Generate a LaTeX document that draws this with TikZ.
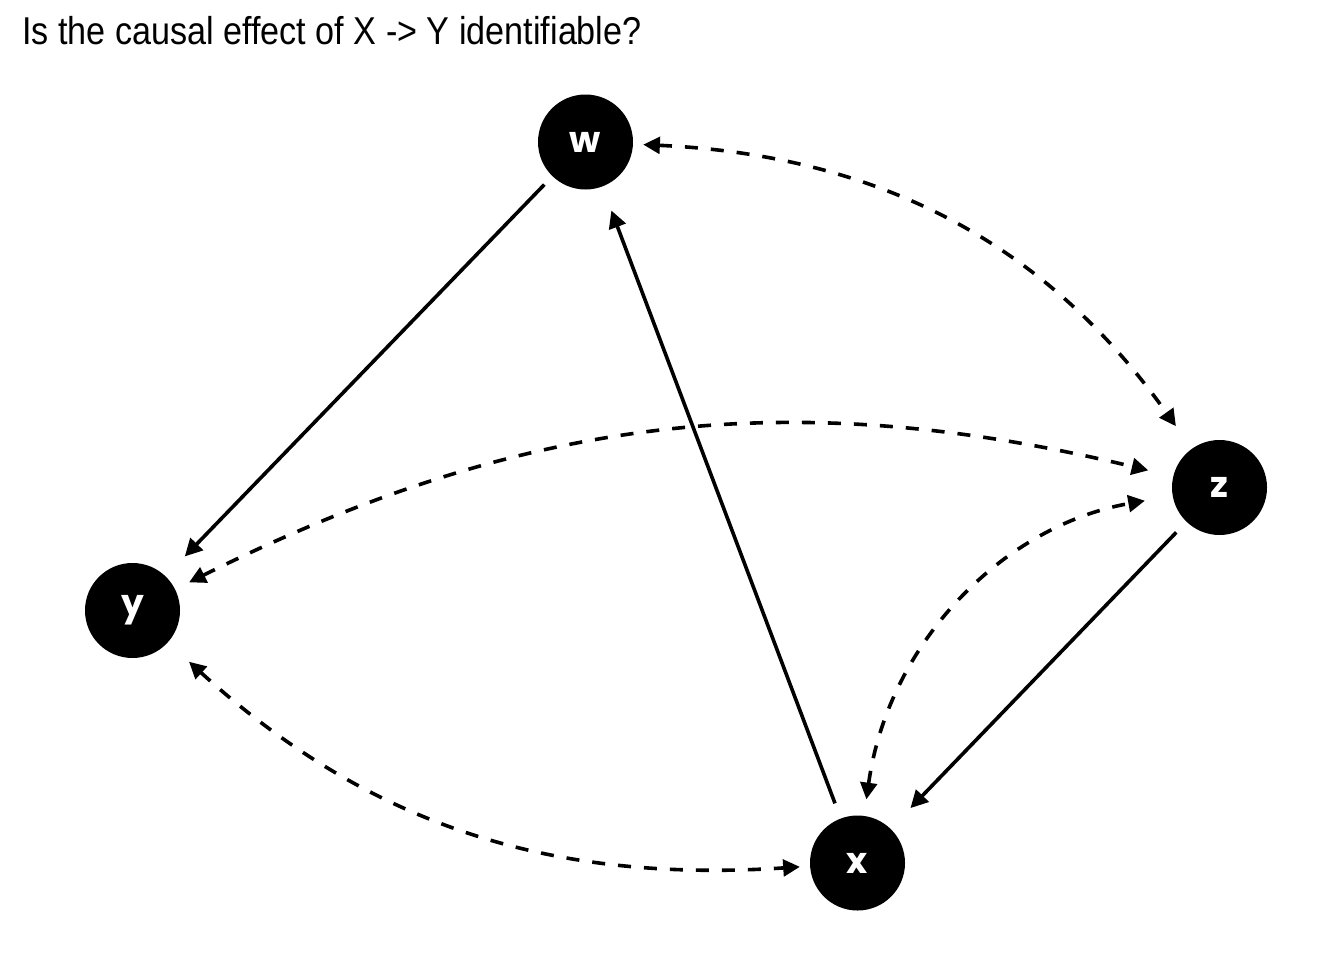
\documentclass[tikz,border=0pt]{standalone}
\usepackage{fontspec}
\setmainfont{Liberation Sans}
\newfontfamily\nodefont{Poppins}
\usetikzlibrary{arrows.meta}
\tikzset{
  dagnode/.style={circle, fill=black, minimum size=71.25pt, inner sep=0pt,
    text=white, font=\nodefont\bfseries\fontsize{27pt}{27pt}\selectfont},
  directed/.style={line width=2.7pt, -{Triangle[length=13pt,width=13pt]}},
  bidirected/.style={line width=2.7pt, {Triangle[length=12.5pt,width=12.5pt]}-{Triangle[length=12.5pt,width=12.5pt]},
    dash pattern=on 9.75pt off 9.75pt},
}
\begin{document}
\begin{tikzpicture}[x=0.75pt, y=-0.75pt]
\useasboundingbox (0,0) rectangle (1344,960);
\node[anchor=base west, inner sep=0pt] (title) at (22,44)
  {\scalebox{0.915}[1.04]{\fontsize{28pt}{30pt}\selectfont Is the causal effect of X -> Y identifiable?}};
\node[dagnode] (w) at (585.5,142) {w};
\node[dagnode] (z) at (1219.5,487.5) {z};
\node[dagnode] (y) at (132.5,610.5) {y};
\node[dagnode] (x) at (857.5,863) {x};
% directed edges
\draw[directed, shorten <=8.6pt, shorten >=20.6pt] (w) -- (y);
\draw[directed, shorten <=12pt, shorten >=19.1pt] (x) -- (w);
\draw[directed, shorten <=10.9pt, shorten >=21.4pt] (z) -- (x);
% bidirected edges
\draw[bidirected, shorten <=7.5pt, shorten >=20.6pt] (w) to[bend left=26] (z);
\draw[bidirected, shorten <=11.6pt, shorten >=19.1pt] (y) to[bend left=20] (z);
\draw[bidirected, shorten <=12.4pt, shorten >=21pt] (x) to[bend left=36] (z);
\draw[bidirected, shorten <=21.4pt, shorten >=7.5pt] (y) to[bend right=23] (x);
\end{tikzpicture}
\end{document}
